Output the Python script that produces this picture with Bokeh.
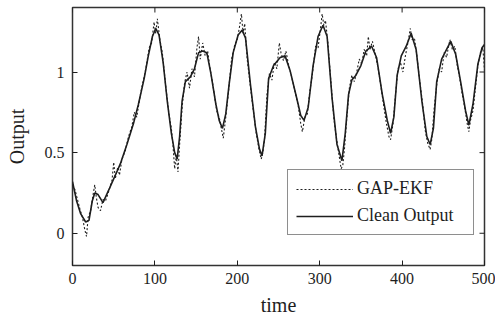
from math import pi
from bokeh.plotting import figure
from bokeh.models import FixedTicker, Legend, LegendItem, Range1d
from bokeh.embed import file_html
from bokeh.resources import INLINE

# Clean output
clean_t = [0, 5, 10, 16, 20, 24, 27, 31, 37, 45, 52, 58, 66, 74, 80, 87, 92, 97, 101, 105,
           110, 115, 120, 124, 127, 130, 133, 137, 143, 148, 153, 158, 163, 168, 174, 178, 182,
           186, 190, 195, 201, 206, 210, 216, 222, 227, 230, 234, 238, 244, 252, 258, 264, 272,
           277, 281, 286, 292, 298, 304, 309, 315, 321, 327, 331, 335, 339, 344, 350, 356, 363,
           369, 376, 382, 386, 390, 394, 399, 405, 411, 417, 424, 430, 434, 438, 442, 448, 454,
           459, 465, 471, 477, 481, 486, 492, 497, 500]
clean_v = [0.32, 0.20, 0.12, 0.07, 0.08, 0.20, 0.25, 0.24, 0.19, 0.28, 0.36, 0.43, 0.55, 0.68,
           0.80, 0.96, 1.10, 1.22, 1.27, 1.23, 1.06, 0.82, 0.62, 0.50, 0.46, 0.60, 0.82, 0.94,
           0.97, 1.02, 1.12, 1.13, 1.12, 0.99, 0.80, 0.70, 0.65, 0.74, 0.92, 1.12, 1.23, 1.26,
           1.21, 0.92, 0.66, 0.52, 0.48, 0.62, 0.96, 1.04, 1.09, 1.10, 1.01, 0.84, 0.73, 0.70,
           0.78, 1.04, 1.22, 1.29, 1.22, 0.84, 0.55, 0.45, 0.62, 0.86, 0.95, 0.98, 1.04, 1.13,
           1.16, 1.09, 0.86, 0.70, 0.62, 0.72, 0.98, 1.10, 1.16, 1.24, 1.14, 0.82, 0.60, 0.55,
           0.65, 0.94, 1.08, 1.14, 1.19, 1.11, 0.94, 0.76, 0.67, 0.80, 1.05, 1.15, 1.17]

# GAP-EKF estimate
gap_t = [0, 3, 6, 9, 12, 15, 17, 19, 22, 25, 27, 29, 31, 34, 37, 40, 44, 48, 50, 52, 55, 57,
         60, 64, 68, 72, 75, 78, 82, 86, 89, 93, 96, 99, 101, 103, 106, 109, 113, 117, 120, 122,
         124, 126, 128, 130, 133, 136, 139, 142, 145, 148, 151, 153, 155, 158, 161, 164, 167,
         171, 175, 178, 181, 183, 186, 189, 193, 197, 200, 203, 205, 207, 209, 212, 215, 219,
         223, 226, 229, 231, 233, 236, 239, 242, 245, 248, 251, 253, 256, 259, 262, 266, 270,
         274, 277, 279, 282, 285, 288, 291, 295, 298, 301, 303, 305, 307, 310, 313, 317, 320,
         323, 326, 328, 330, 333, 336, 339, 342, 345, 348, 351, 354, 357, 359, 361, 364, 367,
         371, 374, 378, 381, 384, 386, 389, 392, 395, 398, 401, 404, 407, 410, 412, 415, 418,
         421, 425, 428, 431, 434, 436, 439, 442, 445, 448, 451, 454, 456, 458, 461, 464, 467,
         470, 473, 476, 479, 481, 483, 486, 489, 492, 495, 498, 500]
gap_v = [0.30, 0.27, 0.21, 0.15, 0.10, 0.02, -0.02, 0.10, 0.14, 0.24, 0.30, 0.22, 0.16, 0.14,
         0.21, 0.20, 0.26, 0.33, 0.44, 0.34, 0.41, 0.36, 0.46, 0.51, 0.60, 0.66, 0.75, 0.72,
         0.85, 0.95, 1.02, 1.15, 1.18, 1.31, 1.24, 1.33, 1.20, 1.12, 0.92, 0.74, 0.65, 0.54,
         0.40, 0.48, 0.38, 0.55, 0.78, 0.93, 1.00, 0.90, 1.02, 0.97, 1.15, 1.22, 1.08, 1.18,
         1.10, 1.13, 1.02, 0.90, 0.76, 0.72, 0.64, 0.59, 0.72, 0.86, 1.08, 1.17, 1.20, 1.29,
         1.36, 1.24, 1.30, 1.08, 0.95, 0.78, 0.62, 0.53, 0.46, 0.50, 0.58, 0.86, 0.99, 0.95,
         1.06, 1.02, 1.18, 1.12, 1.07, 1.13, 1.05, 0.97, 0.88, 0.79, 0.68, 0.63, 0.72, 0.74,
         0.88, 0.98, 1.16, 1.15, 1.27, 1.36, 1.29, 1.32, 1.18, 0.98, 0.72, 0.60, 0.50, 0.40,
         0.42, 0.52, 0.72, 0.90, 0.98, 0.94, 1.00, 1.08, 1.05, 1.14, 1.10, 1.22, 1.14, 1.19,
         1.12, 1.02, 0.92, 0.78, 0.68, 0.60, 0.58, 0.68, 0.86, 1.02, 1.06, 1.00, 1.10, 1.18,
         1.27, 1.20, 1.21, 1.10, 0.96, 0.80, 0.64, 0.56, 0.52, 0.58, 0.78, 0.92, 1.02, 1.00,
         1.12, 1.09, 1.15, 1.20, 1.14, 1.16, 1.04, 0.96, 0.86, 0.78, 0.68, 0.63, 0.70, 0.76,
         0.90, 1.04, 1.12, 1.15, 1.01]

x_ticks = [0, 100, 200, 300, 400, 500]
y_ticks = [0, 0.5, 1]
x_lim = (0, 500)
y_lim = (-0.2, 1.4)
series_labels = ["GAP-EKF", "Clean Output"]

FONT = "Liberation Serif"
INK = "#1e1e1e"

p = figure(width=495, height=323, output_backend="svg", toolbar_location=None,
           x_range=Range1d(*x_lim), y_range=Range1d(*y_lim),
           min_border_left=72, min_border_right=11, min_border_top=7, min_border_bottom=58)
p.background_fill_color = "white"
p.border_fill_color = "white"
p.grid.visible = False
p.outline_line_color = "#333333"
p.outline_line_width = 1.5

p.xaxis.ticker = FixedTicker(ticks=x_ticks)
p.yaxis.ticker = FixedTicker(ticks=y_ticks)
p.xaxis.axis_label = "time"
p.yaxis.axis_label = "Output"
for ax in (p.xaxis[0], p.yaxis[0]):
    ax.axis_line_color = None
    ax.major_tick_in = 5
    ax.major_tick_out = 0
    ax.minor_tick_in = 0
    ax.minor_tick_out = 0
    ax.major_tick_line_color = INK
    ax.major_label_text_font = FONT
    ax.major_label_text_font_size = "16px"
    ax.major_label_text_color = INK
    ax.axis_label_text_font = FONT
    ax.axis_label_text_font_size = "20px"
    ax.axis_label_text_font_style = "normal"
    ax.axis_label_text_color = INK
p.xaxis.major_label_standoff = 7
p.xaxis.axis_label_standoff = 7
p.yaxis.major_label_standoff = 8
p.yaxis.axis_label_standoff = 14

# inward tick marks on the top and right frame edges (clipped to the frame)
p.scatter(x_ticks, [y_lim[1]] * len(x_ticks), marker="dash", angle=pi / 2, size=10,
          line_color=INK, line_width=1)
p.scatter([x_lim[1]] * len(y_ticks), y_ticks, marker="dash", size=10,
          line_color=INK, line_width=1)

r_clean = p.line(clean_t, clean_v, line_color=INK, line_width=1.6)
r_gap = p.line(gap_t, gap_v, line_color=INK, line_width=1.1, line_dash="2 2")

legend = Legend(items=[LegendItem(label=series_labels[0], renderers=[r_gap]),
                       LegendItem(label=series_labels[1], renderers=[r_clean])],
                location=(215, 30), margin=0, padding=8, spacing=6,
                glyph_width=57, glyph_height=20, label_height=20, label_width=108,
                label_standoff=4,
                label_text_font=FONT, label_text_font_size="18px", label_text_color=INK,
                border_line_color=INK, border_line_width=1.2,
                background_fill_color="white", background_fill_alpha=1.0)
p.add_layout(legend)

open("out.html", "w").write(file_html(p, INLINE))
